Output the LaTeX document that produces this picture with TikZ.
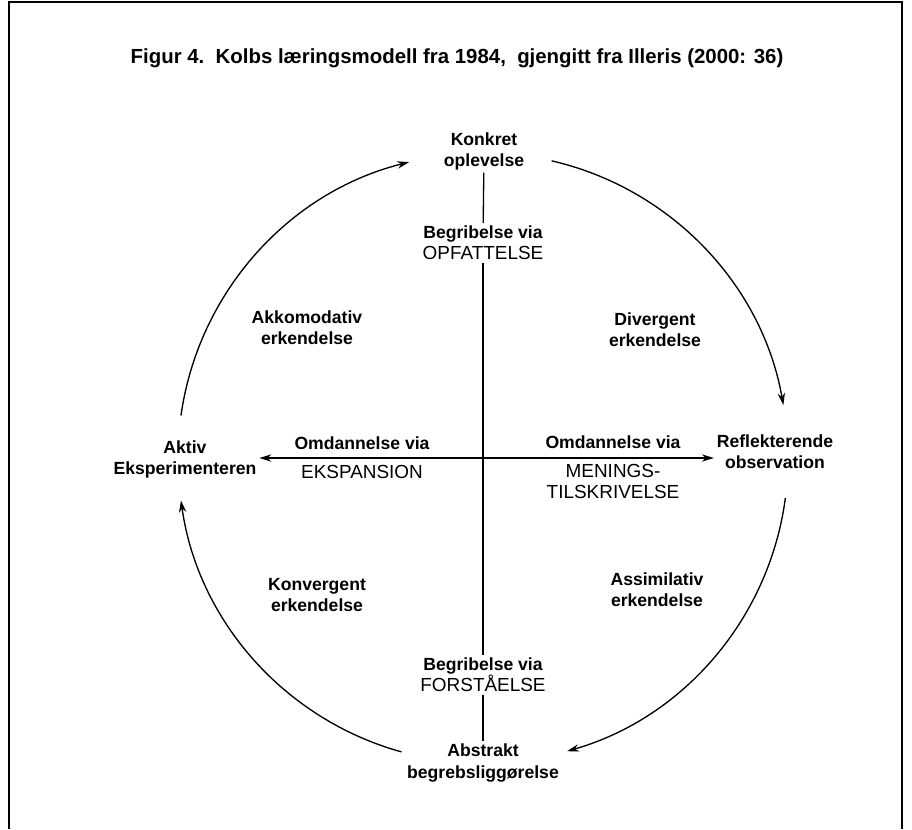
\documentclass[tikz,border=0pt]{standalone}
\usepackage{fontspec}
\setmainfont{Liberation Sans}
\usetikzlibrary{calc,arrows.meta,positioning}

\newcommand{\capw}[1]{{\fontsize{14.2}{16}\selectfont\mdseries #1}}

\begin{document}
\begin{tikzpicture}[
  x=0.75pt, y=0.75pt,
  >={Stealth[length=9pt,width=5.5pt]},
  lbl/.style={font=\fontsize{13.2}{15.8}\selectfont\bfseries,align=center,inner sep=2pt},
  ttl/.style={font=\fontsize{15.3}{18}\selectfont\bfseries,inner sep=0pt},
  cyc/.style={->,line width=1pt},
  ax/.style={line width=1pt},
  frame/.style={line width=1.1pt}
]
\useasboundingbox (0,0) rectangle (912,-829);
\draw[frame] (9,-829) -- (9,-2) -- (902,-2) -- (902,-829);

\node[ttl] (title) at (457,-58) {Figur 4.\ \ Kolbs læringsmodell fra 1984,\ \ gjengitt fra Illeris (2000: 36)};

\coordinate (C) at (483,-458);

% poles of the cycle
\node[lbl] (konk)  at (484,-151) {Konkret\\oplevelse};
\node[lbl] (refl)  at (775,-452) {Reflekterende\\observation};
\node[lbl] (abstr) at (483,-763) {Abstrakt\\begrebsliggørelse};
\node[lbl] (akt)   at (185,-459) {Aktiv\\Eksperimenteren};

% axis labels
\node[lbl] (opf)   at (483,-243) {Begribelse via\\\capw{OPFATTELSE}};
\node[lbl] (forst) at (483,-675) {Begribelse via\\\capw{FORSTÅELSE}};
\node[lbl] (omdL)  at (362,-458) {Omdannelse via\\[6pt]\capw{EKSPANSION}};
\node[lbl] (omdR)  at (613,-467) {Omdannelse via\\[6pt]\capw{MENINGS-}\\\capw{TILSKRIVELSE}};

% quadrants
\node[lbl] (akk)  at (307,-328) {Akkomodativ\\erkendelse};
\node[lbl] (div)  at (655,-330) {Divergent\\erkendelse};
\node[lbl] (konv) at (317,-595) {Konvergent\\erkendelse};
\node[lbl] (assi) at (657,-590) {Assimilativ\\erkendelse};

% axes
\draw[ax] (konk) -- (opf);
\draw[ax] (opf) -- (forst);
\draw[ax] (forst) -- (abstr);
\draw[ax,<->] (akt.east |- C) -- (refl.west |- C);

% cycle
\coordinate (akt-out)   at ($(C)+(172:305)$);
\coordinate (konk-out)  at ($(C)+(77:305)$);
\coordinate (refl-out)  at ($(C)+(-7.5:305)$);
\coordinate (abstr-out) at ($(C)+(-105.5:305)$);
\draw[cyc] (akt-out)   arc[start angle=172,    end angle=104,  radius=305];
\draw[cyc] (konk-out)  arc[start angle=77,     end angle=10,   radius=305];
\draw[cyc] (refl-out)  arc[start angle=-7.5,   end angle=-74,  radius=305];
\draw[cyc] (abstr-out) arc[start angle=-105.5, end angle=-172, radius=305];
\end{tikzpicture}
\end{document}
